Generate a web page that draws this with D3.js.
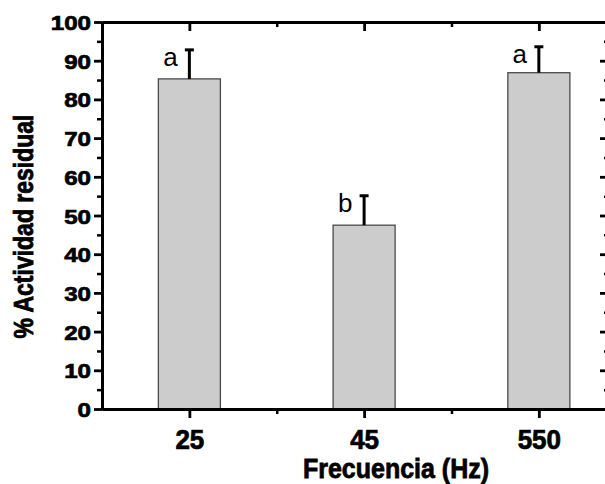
<!DOCTYPE html>
<html>
<head>
<meta charset="utf-8">
<script src="https://cdn.jsdelivr.net/npm/d3@7"></script>
<style>
  html, body { margin: 0; padding: 0; background: #fff; }
  svg { display: block; }
  text { font-family: "Liberation Sans", Arial, sans-serif; fill: #000; }
  .heavy { stroke: #000; stroke-width: 0.7px; paint-order: stroke; }
</style>
</head>
<body>
<div id="chart"></div>
<script>
// ---- data ----
const categories = ["25", "45", "550"];
const values = [85.3, 47.5, 86.9];
const errors = [7.5, 7.6, 6.7];
const letters = ["a", "b", "a"];
const yMajorTicks = [0, 10, 20, 30, 40, 50, 60, 70, 80, 90, 100];
const yMinorTicks = [5, 15, 25, 35, 45, 55, 65, 75, 85, 95];
const xTitle = "Frecuencia (Hz)";
const yTitle = "% Actividad residual";

// ---- layout ----
const W = 605, H = 484;
const padL = 102, padR = 607, padT = 22, padB = 409;

const svg = d3.select("#chart").append("svg")
  .attr("width", W).attr("height", H);

const x = d3.scaleLinear().domain([0.5, 3.39]).range([padL, padR]);
const y = d3.scaleLinear().domain([0, 100]).range([padB, padT]);
const barW = x(1.355) - x(1);
const catPos = categories.map((c, i) => i + 1);

// ---- bars ----
svg.append("g").selectAll("rect").data(values).join("rect")
  .attr("x", (d, i) => x(catPos[i]) - barW / 2)
  .attr("y", d => y(d))
  .attr("width", barW)
  .attr("height", d => y(0) - y(d))
  .attr("fill", "#cccccc")
  .attr("stroke", "#4a4a4a")
  .attr("stroke-width", 1.3);

// ---- error bars (upper only) ----
const eb = svg.append("g").attr("stroke", "#000").attr("stroke-width", 3);
values.forEach((v, i) => {
  const cx = x(catPos[i]);
  eb.append("line").attr("x1", cx).attr("x2", cx)
    .attr("y1", y(v)).attr("y2", y(v + errors[i]));
  eb.append("line").attr("x1", cx - 4.5).attr("x2", cx + 4.5)
    .attr("y1", y(v + errors[i])).attr("y2", y(v + errors[i]));
});

// ---- significance letters ----
svg.append("g").selectAll("text").data(letters).join("text")
  .attr("x", (d, i) => x(catPos[i]) - 19)
  .attr("y", (d, i) => y(values[i] + errors[i]) + 16)
  .attr("text-anchor", "middle")
  .attr("font-size", 26)
  .text(d => d);

// ---- axes ----
function styleAxis(g, w) {
  g.select(".domain").attr("stroke", "#000").attr("stroke-width", 3);
  g.selectAll(".tick line").attr("stroke", "#000").attr("stroke-width", w);
}

// left major
const gLeft = svg.append("g").attr("transform", `translate(${padL},0)`)
  .call(d3.axisLeft(y).tickValues(yMajorTicks).tickSize(8).tickSizeOuter(0).tickFormat(d3.format("d")));
styleAxis(gLeft, 2.8);
gLeft.selectAll(".tick text")
  .attr("class", "heavy")
  .attr("x", 0).attr("dy", "0.36em")
  .attr("font-size", 21).attr("font-weight", "bold")
  .attr("font-family", "'Liberation Sans', Arial, sans-serif")
  .attr("transform", "translate(-11,0) scale(1.15,1)");
// left minor
const gLeftMin = svg.append("g").attr("transform", `translate(${padL},0)`)
  .call(d3.axisLeft(y).tickValues(yMinorTicks).tickSize(5).tickSizeOuter(0).tickFormat(""));
styleAxis(gLeftMin, 2.5);

// right (inward ticks)
const gRight = svg.append("g").attr("transform", `translate(${padR},0)`)
  .call(d3.axisLeft(y).tickValues(yMajorTicks).tickSize(7).tickSizeOuter(0).tickFormat(""));
styleAxis(gRight, 2.8);
const gRightMin = svg.append("g").attr("transform", `translate(${padR},0)`)
  .call(d3.axisLeft(y).tickValues(yMinorTicks).tickSize(3).tickSizeOuter(0).tickFormat(""));
styleAxis(gRightMin, 2.5);

// bottom major
const gBottom = svg.append("g").attr("transform", `translate(0,${padB})`)
  .call(d3.axisBottom(x).tickValues(catPos).tickSize(9).tickSizeOuter(0)
    .tickFormat(d => categories[d - 1]));
styleAxis(gBottom, 2.8);
gBottom.selectAll(".tick text")
  .attr("class", "heavy")
  .attr("y", 0).attr("dy", 0)
  .attr("font-size", 26).attr("font-weight", "bold")
  .attr("font-family", "'Liberation Sans', Arial, sans-serif")
  .attr("transform", "translate(0,40) scale(1,1.07)");
const gBottomMin = svg.append("g").attr("transform", `translate(0,${padB})`)
  .call(d3.axisBottom(x).tickValues([1.5, 2.5]).tickSize(5).tickSizeOuter(0).tickFormat(""));
styleAxis(gBottomMin, 2.5);

// top (inward ticks)
const gTop = svg.append("g").attr("transform", `translate(0,${padT})`)
  .call(d3.axisBottom(x).tickValues(catPos).tickSize(9).tickSizeOuter(0).tickFormat(""));
styleAxis(gTop, 2.8);
const gTopMin = svg.append("g").attr("transform", `translate(0,${padT})`)
  .call(d3.axisBottom(x).tickValues([1.5, 2.5]).tickSize(5).tickSizeOuter(0).tickFormat(""));
styleAxis(gTopMin, 2.5);

// ---- titles ----
svg.append("g").attr("transform", "translate(396,478) scale(1,1.12)")
  .append("text")
  .attr("class", "heavy")
  .attr("text-anchor", "middle")
  .attr("font-size", 25).attr("font-weight", "bold")
  .text(xTitle);

svg.append("g").attr("transform", "translate(33,226.5) rotate(-90) scale(1,1.19)")
  .append("text")
  .attr("class", "heavy")
  .attr("text-anchor", "middle")
  .attr("font-size", 23).attr("font-weight", "bold")
  .text(yTitle);
</script>
</body>
</html>
